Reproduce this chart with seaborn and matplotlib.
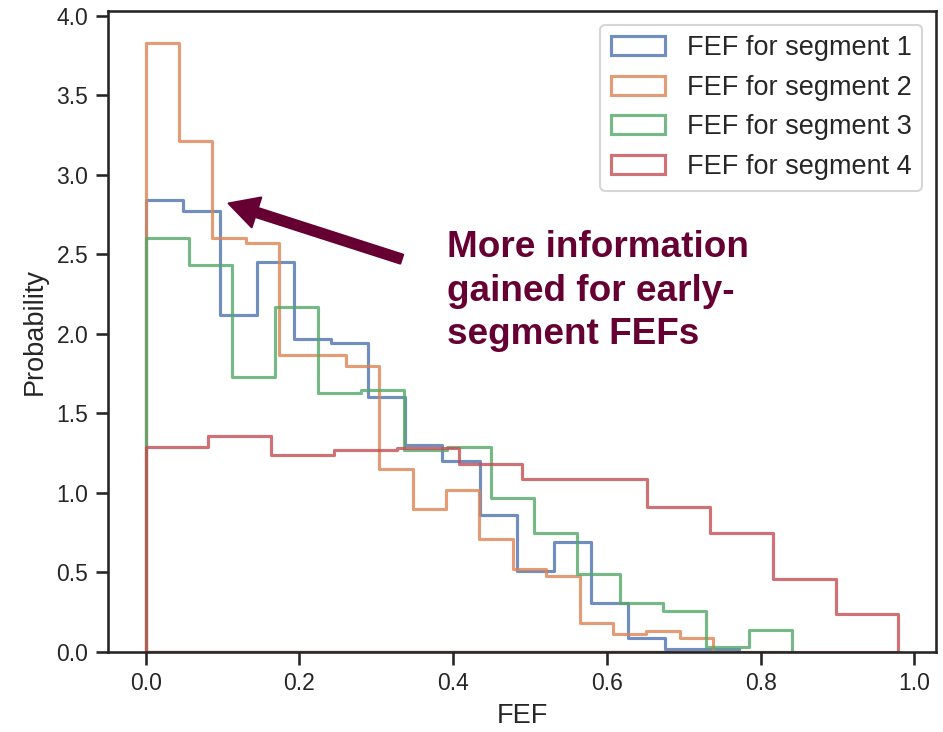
import numpy as np
import pandas as pd
import matplotlib
matplotlib.use("Agg")
import matplotlib.pyplot as plt
import matplotlib.patches as mpatches
from matplotlib.colors import to_rgba
import seaborn as sns

# bar heights (density), one list per segment
seg1_heights = [2.84, 2.77, 2.12, 2.45, 1.97, 1.94, 1.60, 1.30, 1.20, 0.86,
                0.51, 0.69, 0.31, 0.09, 0.02, 0.02]
seg2_heights = [3.83, 3.21, 2.60, 2.57, 1.87, 1.87, 1.80, 1.15, 0.90, 1.02,
                0.71, 0.52, 0.48, 0.18, 0.11, 0.13, 0.09]
seg3_heights = [2.60, 2.43, 1.73, 2.17, 1.63, 1.65, 1.27, 1.29, 0.97, 0.75,
                0.49, 0.31, 0.26, 0.03, 0.14]
seg4_heights = [1.29, 1.36, 1.24, 1.27, 1.28, 1.18, 1.09, 1.09, 0.91, 0.75,
                0.46, 0.24]

# upper end of each segment's FEF range (bins start at 0)
seg_max = [0.772, 0.738, 0.841, 0.979]
seg_labels = ["FEF for segment 1", "FEF for segment 2",
              "FEF for segment 3", "FEF for segment 4"]

note_text = "More information\ngained for early-\nsegment FEFs"


def main():
    sns.set_theme(style="ticks")
    plt.rcParams["font.family"] = ["Liberation Sans", "DejaVu Sans"]

    fig, ax = plt.subplots(figsize=(943 / 150, 732 / 150), dpi=150)
    fig.subplots_adjust(left=0.1145, right=0.9926, bottom=0.1093, top=0.985)

    colors = sns.color_palette("deep", 4)
    all_heights = [seg1_heights, seg2_heights, seg3_heights, seg4_heights]

    handles = []
    for heights, top, label, color in zip(all_heights, seg_max, seg_labels, colors):
        edges = np.linspace(0, top, len(heights) + 1)
        centers = (edges[:-1] + edges[1:]) / 2
        df = pd.DataFrame({"FEF": centers, "h": heights})
        # fill=True so the outline drops to zero at both ends; no face colour
        sns.histplot(data=df, x="FEF", weights="h", bins=edges.tolist(),
                     element="step", fill=True, color=color, facecolor="none",
                     edgecolor=to_rgba(color, 0.8), linewidth=1.5, ax=ax)
        handles.append(mpatches.Patch(facecolor="none",
                                      edgecolor=to_rgba(color, 0.8),
                                      linewidth=1.5, label=label))

    ax.set_xlim(-0.049, 1.028)
    ax.set_ylim(0, 4.03)
    ax.set_xticks(np.arange(0, 1.01, 0.2))
    ax.set_yticks(np.arange(0, 4.01, 0.5))
    ax.set_xlabel("FEF", fontsize=13)
    ax.set_ylabel("Probability", fontsize=13)

    ax.legend(handles=handles, loc="upper right", fontsize=13)

    maroon = "#660033"
    ax.annotate("", xy=(0.108, 2.82), xytext=(0.333, 2.47),
                arrowprops=dict(facecolor=maroon, edgecolor=maroon,
                                width=4.5, headwidth=15, headlength=14,
                                shrink=0))
    ax.text(0.392, 2.65, note_text, color=maroon, fontsize=17.7,
            fontweight="bold", ha="left", va="top", linespacing=1.3)

    plt.savefig("out.png", dpi=150)
    plt.close()


if __name__ == "__main__":
    main()
